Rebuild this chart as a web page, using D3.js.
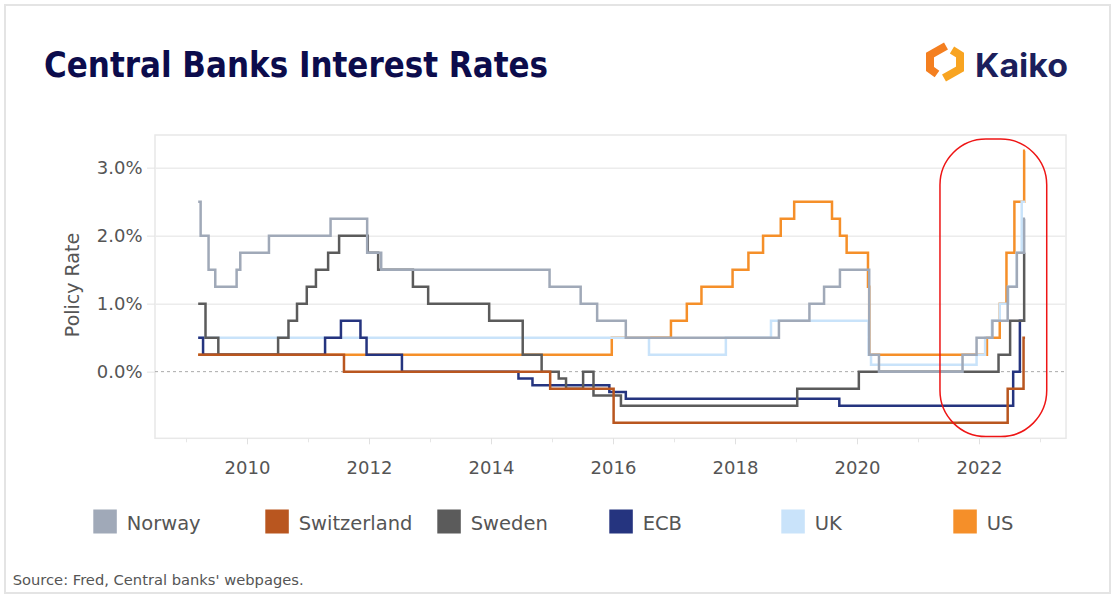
<!DOCTYPE html>
<html><head><meta charset="utf-8">
<script src="https://cdn.jsdelivr.net/npm/d3@7"></script>
<style>body{margin:0;background:#fff;} svg{display:block;}</style>
</head><body><svg id="c" width="1116" height="599"></svg>
<script>
// ---------------- data (decimal year, policy rate %) ----------------
const seriesNames  = ["Norway", "Switzerland", "Sweden", "ECB", "UK", "US"];
const seriesColors = ["#a0a9b8", "#b9561f", "#5b5b5b", "#25347f", "#c9e3fa", "#f58f29"];

const norway = [[2009.20,2.5],[2009.24,2.0],[2009.37,1.5],[2009.48,1.25],[2009.83,1.5],[2009.89,1.75],
  [2010.36,2.0],[2011.37,2.25],[2011.97,1.75],[2012.20,1.5],[2014.96,1.25],[2015.47,1.0],[2015.74,0.75],
  [2016.21,0.5],[2018.72,0.75],[2019.22,1.0],[2019.46,1.25],[2019.72,1.5],[2020.20,0.25],[2020.36,0.0],
  [2021.73,0.25],[2021.96,0.5],[2022.22,0.75],[2022.47,1.25],[2022.62,1.75],[2022.74,2.25]];
const switzerland = [[2009.20,0.25],[2011.59,0.0],[2014.97,-0.25],[2016.01,-0.75],[2022.47,-0.25],[2022.73,0.5]];
const sweden = [[2009.20,1.0],[2009.32,0.5],[2009.53,0.25],[2010.51,0.5],[2010.68,0.75],[2010.82,1.0],
  [2010.98,1.25],[2011.13,1.5],[2011.33,1.75],[2011.51,2.0],[2011.98,1.75],[2012.15,1.5],[2012.72,1.25],
  [2012.97,1.0],[2013.97,0.75],[2014.52,0.25],[2014.83,0.0],[2015.11,-0.1],[2015.23,-0.25],[2015.51,0.0],
  [2015.68,-0.35],[2016.13,-0.5],[2019.02,-0.25],[2020.03,0.0],[2022.32,0.25],[2022.51,0.75],[2022.74,1.75]];
const ecb = [[2009.20,0.5],[2009.28,0.25],[2011.28,0.5],[2011.54,0.75],[2011.86,0.5],[2011.96,0.25],
  [2012.54,0.0],[2014.45,-0.1],[2014.68,-0.2],[2015.94,-0.3],[2016.21,-0.4],[2019.71,-0.5],[2022.56,0.0],[2022.67,0.75]];
const uk = [[2009.20,0.5],[2016.59,0.25],[2017.85,0.5],[2018.59,0.75],[2020.19,0.25],[2020.23,0.1],
  [2021.96,0.25],[2022.10,0.5],[2022.21,0.75],[2022.34,1.0],[2022.48,1.25],[2022.62,1.75],[2022.70,2.5]];
const us = [[2009.20,0.25],[2015.98,0.5],[2016.95,0.75],[2017.21,1.0],[2017.45,1.25],[2017.96,1.5],
  [2018.22,1.75],[2018.46,2.0],[2018.75,2.25],[2018.97,2.5],[2019.59,2.25],[2019.72,2.0],[2019.83,1.75],
  [2020.18,1.25],[2020.20,0.25],[2022.13,0.5],[2022.34,1.0],[2022.45,1.75],[2022.58,2.5],[2022.74,3.25]];
const endYear = 2022.755;

const yTicks = [0, 1, 2, 3];
const xMajorTicks = [2010, 2012, 2014, 2016, 2018, 2020, 2022];
const xMinorTicks = [2009, 2011, 2013, 2015, 2017, 2019, 2021, 2023];
const highlightYears = [2021.36, 2023.11];
const highlightRates = [3.42, -0.955];

const titleText = "Central Banks Interest Rates";
const yLabel = "Policy Rate";
const sourceText = "Source: Fred, Central banks' webpages.";

// ---------------- layout ----------------
const svg = d3.select("#c");
const L = 155, R = 1066, T = 135, B = 438.3;
const x = d3.scaleLinear().domain([2008.492, 2023.426]).range([L, R]);
const y = d3.scaleLinear().domain([-0.98, 3.48]).range([B, T]);
const textCol = "#555";
const font = "'DejaVu Sans', Verdana, sans-serif";

svg.append("rect").attr("width",1116).attr("height",599).attr("fill","#fff");
svg.append("rect").attr("x",5).attr("y",5).attr("width",1105).attr("height",588)
  .attr("fill","none").attr("stroke","#e4e4e4").attr("stroke-width",2);

// title
svg.append("text").attr("x",44).attr("y",77).text(titleText)
  .attr("font-family","'DejaVu Sans Condensed','DejaVu Sans',sans-serif")
  .attr("font-stretch","condensed").attr("font-weight","bold").attr("font-size",35)
  .attr("fill","#0c0c4c").attr("textLength",504).attr("lengthAdjust","spacingAndGlyphs");

// logo
const logo = svg.append("g");
logo.append("path").attr("d","M946,46 L930,55 L930,69 L937,74").attr("fill","none")
  .attr("stroke","#f47f20").attr("stroke-width",8).attr("stroke-linejoin","miter");
logo.append("path").attr("d","M952,50 L960,55 L960,69 L944,78").attr("fill","none")
  .attr("stroke","#f8a421").attr("stroke-width",8).attr("stroke-linejoin","miter");
logo.append("text").attr("x",975).attr("y",76.5).text("Kaiko")
  .attr("font-family","Inter, 'Open Sans', sans-serif").attr("font-weight","bold")
  .attr("font-size",33).attr("fill","#1c1f5c").attr("textLength",93).attr("lengthAdjust","spacingAndGlyphs");

// plot frame
svg.append("rect").attr("x",L).attr("y",T).attr("width",R-L).attr("height",B-T)
  .attr("fill","none").attr("stroke","#e8e8e8").attr("stroke-width",1.5);

// gridlines
const grid = svg.append("g").attr("transform",`translate(${L},0)`)
  .call(d3.axisLeft(y).tickValues(yTicks.filter(d=>d!==0)).tickSize(-(R-L)).tickFormat(""));
grid.select(".domain").remove();
grid.selectAll("line").attr("stroke","#ececec").attr("stroke-width",1.5);

// zero line
svg.append("line").attr("x1",L).attr("x2",R).attr("y1",y(0)).attr("y2",y(0))
  .attr("stroke","#aaa").attr("stroke-width",1).attr("stroke-dasharray","3,3");

// y axis
const ya = svg.append("g").attr("transform",`translate(${L},0)`)
  .call(d3.axisLeft(y).tickValues(yTicks).tickSize(8).tickPadding(4.5).tickFormat(d=>d.toFixed(1)+"%"));
ya.select(".domain").remove();
ya.selectAll("line").attr("stroke","#e4e4e4");
ya.selectAll("text").attr("font-family",font).attr("font-size",18).attr("fill",textCol);

svg.append("text").attr("transform",`translate(79,285) rotate(-90)`).attr("text-anchor","middle")
  .attr("font-family",font).attr("font-size",19).attr("fill",textCol).text(yLabel);

// x axis
const xa = svg.append("g").attr("transform",`translate(0,${B})`)
  .call(d3.axisBottom(x).tickValues(xMajorTicks).tickSize(6).tickFormat(d3.format("d")));
xa.select(".domain").remove();
xa.selectAll("line").attr("stroke","#e0e0e0");
xa.selectAll("text").attr("font-family",font).attr("font-size",18).attr("fill",textCol)
  .attr("y",36).attr("dy",0);
const xm = svg.append("g").attr("transform",`translate(0,${B})`)
  .call(d3.axisBottom(x).tickValues(xMinorTicks.filter(d=>x(d)<=R)).tickSize(4).tickFormat(""));
xm.select(".domain").remove();
xm.selectAll("line").attr("stroke","#e6e6e6");

// series lines (drawn in reverse legend order so Norway is on top)
const allSeries = [norway, switzerland, sweden, ecb, uk, us];
const line = d3.line().x(d=>x(d[0])).y(d=>y(d[1])).curve(d3.curveStepAfter);
const lines = svg.append("g");
for (let i = allSeries.length-1; i >= 0; i--) {
  const s = allSeries[i];
  const pts = s.concat([[endYear, s[s.length-1][1]]]);
  lines.append("path").attr("d", line(pts)).attr("fill","none")
    .attr("stroke", seriesColors[i]).attr("stroke-width",2.5)
    .attr("stroke-linejoin","miter");
}

// highlight annotation
const hx0 = x(highlightYears[0]), hx1 = x(highlightYears[1]);
const hy0 = y(highlightRates[0]), hy1 = y(highlightRates[1]);
svg.append("rect").attr("x",hx0).attr("y",hy0).attr("width",hx1-hx0).attr("height",hy1-hy0)
  .attr("rx",46).attr("ry",46).attr("fill","none").attr("stroke","#ee1515").attr("stroke-width",1.5);

// legend
const lg = svg.append("g");
seriesNames.forEach((n,i)=>{
  const gx = 93.3 + i*172;
  lg.append("rect").attr("x",gx).attr("y",509.5).attr("width",23.5).attr("height",24)
    .attr("fill",seriesColors[i]);
  lg.append("text").attr("x",gx+33.4).attr("y",529.5).text(n)
    .attr("font-family",font).attr("font-size",19.5).attr("fill",textCol);
});

// source
svg.append("text").attr("x",12.7).attr("y",585).text(sourceText)
  .attr("font-family",font).attr("font-size",14.7).attr("fill",textCol);
</script>
</body></html>
